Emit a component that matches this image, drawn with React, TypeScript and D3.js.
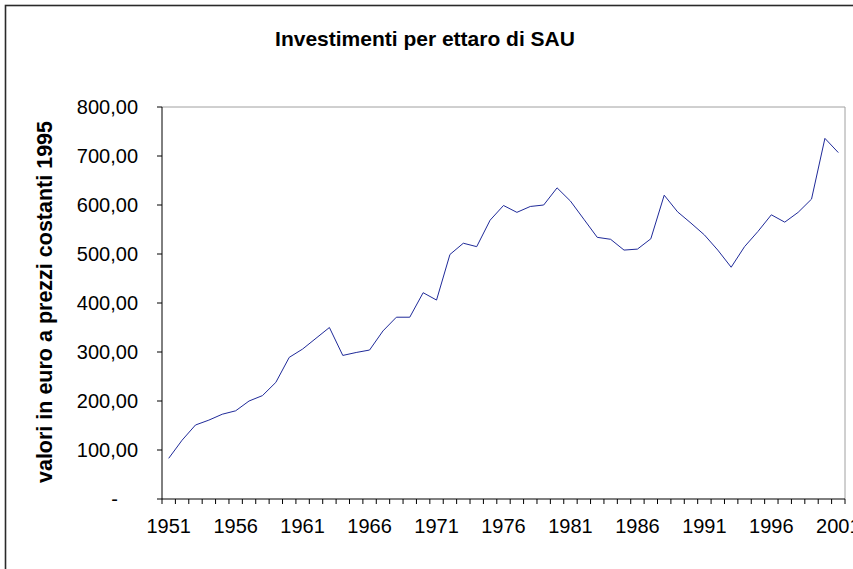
import React from 'react';
import * as d3 from 'd3';

const years = [
  1951, 1952, 1953, 1954, 1955, 1956, 1957, 1958, 1959, 1960,
  1961, 1962, 1963, 1964, 1965, 1966, 1967, 1968, 1969, 1970,
  1971, 1972, 1973, 1974, 1975, 1976, 1977, 1978, 1979, 1980,
  1981, 1982, 1983, 1984, 1985, 1986, 1987, 1988, 1989, 1990,
  1991, 1992, 1993, 1994, 1995, 1996, 1997, 1998, 1999, 2000, 2001,
];

const investimenti = [
  83, 120, 151, 161, 173, 180, 200, 211, 238, 289,
  306, 328, 350, 293, 299, 304, 343, 371, 371, 421,
  406, 499, 522, 515, 569, 599, 585, 597, 600, 635,
  608, 571, 534, 530, 508, 510, 531, 620, 586, 563,
  539, 508, 473, 515, 546, 580, 565, 585, 612, 736, 707,
];

const xTickYears = [1951, 1956, 1961, 1966, 1971, 1976, 1981, 1986, 1991, 1996, 2001];
const yTicks = [0, 100, 200, 300, 400, 500, 600, 700, 800];

const title = 'Investimenti per ettaro di SAU';
const yTitle = 'valori in euro a prezzi costanti 1995';

const W = 853;
const H = 569;
const plot = { left: 162, right: 845, top: 107, bottom: 499 };
const font = '"Liberation Sans", Arial, sans-serif';

const fmt = (v: number) =>
  v === 0 ? '-' : d3.format('.2f')(v).replace('.', ',');

const App = () => {
  const x = d3
    .scaleBand<number>()
    .domain(years)
    .range([plot.left, plot.right]);
  const y = d3
    .scaleLinear()
    .domain([0, 800])
    .range([plot.bottom, plot.top]);

  const line = d3
    .line<number>()
    .x((d, i) => (x(years[i]) as number) + x.bandwidth() / 2)
    .y(d => y(d));

  // tick marks sit between categories, like Excel does
  const boundaries = years.map(yr => x(yr) as number).concat([plot.right]);

  return (
    <svg
      width={W}
      height={H}
      style={{ position: 'absolute', left: 0, top: 0, background: '#fff' }}
      fontFamily={font}
    >
      <rect x={5.5} y={5.5} width={900} height={700} fill="none" stroke="#2a2a2a" strokeWidth={1.6} />

      <text x={425} y={46} textAnchor="middle" fontSize={21} fontWeight="bold">
        {title}
      </text>

      <path
        d={`M${plot.left},${plot.top}H${plot.right}V${plot.bottom}`}
        fill="none"
        stroke="#a0a0a0"
        strokeWidth={1}
      />

      {/* y axis */}
      <line x1={plot.left} x2={plot.left} y1={plot.top} y2={plot.bottom} stroke="#000" />
      {yTicks.map(t => (
        <g key={t}>
          <line x1={plot.left - 5} x2={plot.left} y1={y(t)} y2={y(t)} stroke="#000" />
          <text
            x={t === 0 ? 118 : 138}
            y={y(t)}
            dy="0.35em"
            textAnchor="end"
            fontSize={20}
          >
            {fmt(t)}
          </text>
        </g>
      ))}

      {/* x axis */}
      <line x1={plot.left} x2={plot.right} y1={plot.bottom} y2={plot.bottom} stroke="#000" />
      {boundaries.map((b, i) => (
        <line key={i} x1={b} x2={b} y1={plot.bottom} y2={plot.bottom + 5} stroke="#000" />
      ))}
      {xTickYears.map(yr => (
        <text
          key={yr}
          x={(x(yr) as number) + x.bandwidth() / 2}
          y={533}
          textAnchor="middle"
          fontSize={20}
        >
          {yr}
        </text>
      ))}

      <text
        transform="translate(52,302) rotate(-90)"
        textAnchor="middle"
        fontSize={21.5}
        fontWeight="bold"
      >
        {yTitle}
      </text>

      <path d={line(investimenti) || ''} fill="none" stroke="#1f2a99" strokeWidth={1} />
    </svg>
  );
};

export default App;
